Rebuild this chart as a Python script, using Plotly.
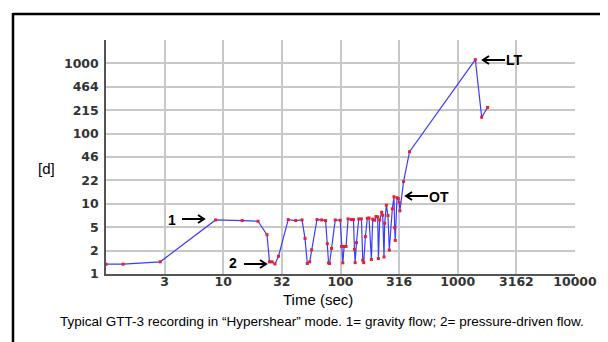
import plotly.graph_objects as go

# ---- data ----
time_sec = [1.0, 1.40, 2.90, 8.6, 14.5, 19.8, 23.6, 24.8, 26.1, 27.6, 29.6,
            35.8, 41.5, 47.0, 49.8, 52.1, 54.6, 56.7, 63.0, 69.0, 74.6, 77.1,
            79.1, 80.7, 83.9, 90.2, 99.4, 102.0, 104.7, 107.4, 111.6, 116.0,
            124.0, 129.0, 131.5, 133.3, 136.8, 143.2, 150.8, 154.8, 157.8,
            163.0, 169.4, 175.2, 183.4, 188.2, 195.7, 201.0, 207.6, 210.5,
            216.0, 224.5, 229.0, 235.0, 238.2, 246.0, 254.0, 260.8, 276.7,
            285.8, 289.6, 293.2, 303.2, 311.0, 317.0, 321.0, 345.0, 388.0,
            1413.0, 1600.0, 1798.0]
d_value = [1.38, 1.38, 1.49, 5.89, 5.77, 5.64, 3.63, 1.49, 1.49, 1.39, 1.79,
           5.96, 5.77, 5.89, 3.22, 1.41, 1.49, 2.21, 5.96, 5.89, 5.77, 2.70,
           1.44, 1.41, 2.31, 5.89, 5.83, 2.47, 1.44, 2.47, 2.47, 6.09,
           5.96, 5.96, 2.24, 1.45, 2.79, 6.09, 6.09, 1.57, 1.45,
           3.40, 6.22, 6.28, 1.61, 6.03, 5.83, 6.58, 6.51, 1.66,
           5.89, 7.59, 6.88, 1.75, 5.28, 9.57, 6.80, 2.19, 8.48,
           12.6, 4.57, 3.01, 12.2, 11.9, 10.4, 7.94, 20.7, 55.2,
           1130.0, 171.0, 236.0]

x_tickvals = [1, 3.1623, 10, 31.623, 100, 316.23, 1000, 3162.3, 10000]
x_ticktext = ["", "3", "10", "32", "100", "316", "1000", "3162", "10000"]
y_tickvals = [1, 2.1544, 4.6416, 10, 21.544, 46.416, 100, 215.44, 464.16, 1000, 2154.4]
y_ticktext = ["1", "2", "5", "10", "22", "46", "100", "215", "464", "1000", ""]

W, H = 608, 342
L, R, T, B = 98, 41, 32, 76
PW, PH = W - L - R, H - T - B


def px(x):
    return (x - L) / PW


def py(y):
    return (H - B - y) / PH


fig = go.Figure()
fig.add_trace(go.Scatter(
    x=time_sec, y=d_value, mode="lines+markers",
    line=dict(color="#3b3bff", width=1.2),
    marker=dict(color="#e8202a", size=3, symbol="square"),
    hoverinfo="skip", showlegend=False,
))

tickfont = dict(family="DejaVu Sans", size=12.5, color="#333333", weight="bold")
fig.update_xaxes(type="log", range=[0, 4], tickvals=x_tickvals, ticktext=x_ticktext,
                 showgrid=True, gridcolor="#c8c8c8", gridwidth=1.5,
                 showline=True, linecolor="#555555", linewidth=1.5,
                 ticks="", tickfont=tickfont, ticklabelstandoff=-5, zeroline=False)
fig.update_yaxes(type="log", range=[0, 10 / 3], tickvals=y_tickvals, ticktext=y_ticktext,
                 showgrid=True, gridcolor="#c8c8c8", gridwidth=1.5,
                 showline=True, linecolor="#555555", linewidth=1.5,
                 ticks="", tickfont=tickfont, ticklabelstandoff=3, zeroline=False)

txt = dict(family="Liberation Sans, Arial", color="black")
ann = [
    dict(x=px(310), y=py(291), text="Time (sec)", font=dict(size=15, **txt)),
    dict(x=px(314), y=py(313),
         text="Typical GTT-3 recording in \u201cHypershear\u201d mode. 1= gravity flow; 2= pressure-driven flow.",
         font=dict(size=13.5, **txt)),
    dict(x=px(38), y=py(160), text="[d]", font=dict(size=15, **txt)),
    dict(x=px(164), y=py(212), text="<b>1</b>", font=dict(size=14, **txt)),
    dict(x=px(225), y=py(255), text="<b>2</b>", font=dict(size=14, **txt)),
    dict(x=px(431), y=py(189), text="<b>OT</b>", font=dict(size=14, **txt)),
    dict(x=px(506), y=py(52), text="<b>LT</b>", font=dict(size=14, **txt)),
]
for a in ann:
    a.update(xref="paper", yref="paper", showarrow=False, xanchor="center", yanchor="middle")


def arrow(x0, x1, y, head=6, half=4):
    # line from x0 to x1, chevron head at x1
    s = 1 if x1 > x0 else -1
    path = (f"M {px(x0)},{py(y)} L {px(x1)},{py(y)} "
            f"M {px(x1 - s * head)},{py(y - half)} L {px(x1)},{py(y)} L {px(x1 - s * head)},{py(y + half)}")
    return dict(type="path", path=path, xref="paper", yref="paper",
                line=dict(color="black", width=2))


shapes = [
    arrow(174, 196, 211),
    arrow(236, 258, 256),
    arrow(420, 398, 188),
    arrow(497, 475, 52),
    dict(type="line", xref="paper", yref="paper", x0=px(5), x1=px(610), y0=py(6), y1=py(6),
         line=dict(color="black", width=2.5)),
    dict(type="line", xref="paper", yref="paper", x0=px(5), x1=px(5), y0=py(5), y1=py(345),
         line=dict(color="black", width=2.5)),
]

fig.update_layout(width=W, height=H, margin=dict(l=L, r=R, t=T, b=B),
                  paper_bgcolor="white", plot_bgcolor="white",
                  annotations=ann, shapes=shapes, showlegend=False)

fig.write_html("out.html")
